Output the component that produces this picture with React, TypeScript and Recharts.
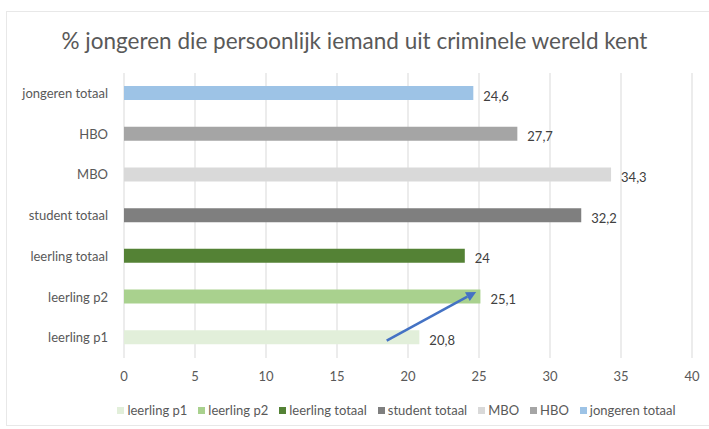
import React from 'react';
import { BarChart, Bar, XAxis, YAxis, CartesianGrid, Cell, LabelList, Legend, ReferenceLine } from 'recharts';

const categories = ['leerling p1', 'leerling p2', 'leerling totaal', 'student totaal', 'MBO', 'HBO', 'jongeren totaal'];
const values = [20.8, 25.1, 24, 32.2, 34.3, 27.7, 24.6];
const colors = ['#e2efda', '#a9d18e', '#548235', '#7f7f7f', '#d9d9d9', '#a5a5a5', '#9dc3e6'];
const xTicks = [0, 5, 10, 15, 20, 25, 30, 35, 40];
const title = '% jongeren die persoonlijk iemand uit criminele wereld kent';
const arrowFrom = { value: 18.5, category: 'leerling p1' };
const arrowTo = { value: 24.8, category: 'leerling p2' };

const data = categories.map((c, i) => ({ name: c, value: values[i], color: colors[i] }));

const FONT = 'Lato, "Open Sans", sans-serif';

const fmt = (v: any) => String(v).replace('.', ',');

const ArrowShape = (props: any) => {
  const { x1, y1, x2, y2 } = props;
  if (x1 == null) return null;
  const sx = x1, sy = y1 + 3, ex = x2, ey = y2 - 5;
  const ang = Math.atan2(ey - sy, ex - sx);
  const L = 10, W = 5;
  const bx = ex - L * Math.cos(ang), by = ey - L * Math.sin(ang);
  const p1x = bx + W * Math.sin(ang), p1y = by - W * Math.cos(ang);
  const p2x = bx - W * Math.sin(ang), p2y = by + W * Math.cos(ang);
  return (
    <g>
      <line x1={sx} y1={sy} x2={bx} y2={by} stroke="#4472c4" strokeWidth={2.5} />
      <polygon points={`${ex},${ey} ${p1x},${p1y} ${p2x},${p2y}`} fill="#4472c4" />
    </g>
  );
};

const LegendContent = () => (
  <div style={{ display: 'flex', justifyContent: 'center', height: 20, alignItems: 'center', fontFamily: FONT, fontSize: 13, color: '#595959', paddingLeft: 112, boxSizing: 'border-box' }}>
    {categories.map((c, i) => (
      <span key={c} style={{ display: 'inline-flex', alignItems: 'center', marginRight: 11 }}>
        <span style={{ display: 'inline-block', width: 7, height: 7, background: colors[i], marginRight: 3 }} />
        {c}
      </span>
    ))}
  </div>
);

export default function App() {
  return (
    <div style={{ position: 'absolute', left: 0, top: 0, width: 709, height: 429, background: '#fff', overflow: 'hidden' }}>
      <div style={{ position: 'absolute', left: 6, top: 11, width: 760, height: 413, border: '1px solid #e8e8e8' }} />
      <div style={{ position: 'absolute', left: 0, top: 27, width: 709, textAlign: 'center', fontFamily: FONT, fontSize: 22.5, color: '#595959' }}>
        {title}
      </div>
      <div style={{ position: 'absolute', left: 0, top: 0 }}>
        <BarChart
          width={709}
          height={429}
          data={data}
          layout="vertical"
          margin={{ top: 73, right: 17, bottom: 21, left: 0 }}
          barCategoryGap={0}
        >
          <CartesianGrid horizontal={false} vertical={true} stroke="#d9d9d9" />
          <XAxis
            type="number"
            domain={[0, 40]}
            ticks={xTicks}
            axisLine={false}
            tickLine={false}
            height={30}
            tickMargin={8}
            tick={{ fill: '#595959', fontSize: 13, fontFamily: FONT }}
          />
          <YAxis
            type="category"
            dataKey="name"
            reversed
            width={124}
            axisLine={false}
            tickLine={false}
            tickMargin={10}
            tick={{ fill: '#595959', fontSize: 13, fontFamily: FONT }}
          />
          <Bar dataKey="value" barSize={14} isAnimationActive={false}>
            {data.map((d) => (
              <Cell key={d.name} fill={d.color} />
            ))}
            <LabelList
              dataKey="value"
              position="right"
              offset={10}
              formatter={fmt}
              style={{ fill: '#404040', fontSize: 13, fontFamily: FONT }}
              dy={3}
            />
          </Bar>
          <ReferenceLine
            segment={[
              { x: arrowFrom.value, y: arrowFrom.category },
              { x: arrowTo.value, y: arrowTo.category },
            ]}
            shape={ArrowShape}
            ifOverflow="visible"
          />
          <Legend verticalAlign="bottom" content={LegendContent} wrapperStyle={{ top: 400, height: 20 }} />
        </BarChart>
      </div>
    </div>
  );
}
